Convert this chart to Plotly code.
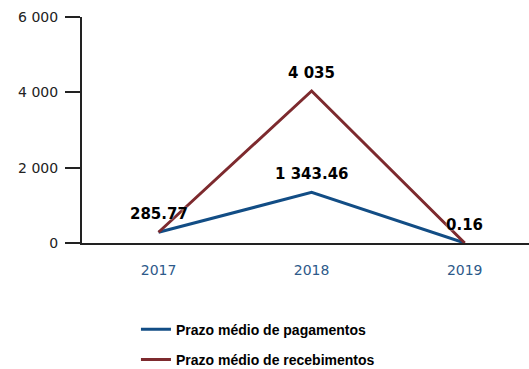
import plotly.graph_objects as go

# Categories and series values
anos = ["2017", "2018", "2019"]
pagamentos = [285.77, 1343.46, 0.16]
recebimentos = [285.77, 4035, 0.16]

# Value labels shown above the points (None = no label)
rotulos_pag = ["285.77", "1 343.46", "0.16"]
rotulos_rec = [None, "4 035", None]

y_ticks = [0, 2000, 4000, 6000]
y_tick_text = ["0", "2 000", "4 000", "6 000"]

azul = "#124d85"
vermelho = "#7d2a2e"

fig = go.Figure()
fig.add_trace(go.Scatter(
    x=anos, y=pagamentos, mode="lines", name="Prazo médio de pagamentos",
    line=dict(color=azul, width=3), legendgroup="a", cliponaxis=False,
))
fig.add_trace(go.Scatter(
    x=anos, y=recebimentos, mode="lines", name="Prazo médio de recebimentos",
    line=dict(color=vermelho, width=3), legendgroup="b", cliponaxis=False,
))

annots = []
for serie, textos in ((pagamentos, rotulos_pag), (recebimentos, rotulos_rec)):
    for i, (val, txt) in enumerate(zip(serie, textos)):
        if txt is None:
            continue
        # category axis: position by category index
        annots.append(dict(
            x=i, y=val, xref="x", yref="y", text="<b>" + txt + "</b>",
            showarrow=False, yanchor="bottom", xanchor="center", yshift=7,
            font=dict(family="DejaVu Sans", size=15, color="#000000",
                      shadow="0px 0px 2px white"),
        ))

fig.update_layout(
    width=529, height=369,
    margin=dict(l=82, r=0, t=17, b=126, autoexpand=False),
    paper_bgcolor="white", plot_bgcolor="white",
    showlegend=True,
    legend=dict(
        xref="container", yref="container",
        x=0.257, y=0.15, xanchor="left", yanchor="top",
        orientation="v", traceorder="grouped", tracegroupgap=9,
        font=dict(family="Liberation Sans", size=14, color="#000000", weight="bold"),
        bgcolor="rgba(0,0,0,0)",
    ),
    annotations=annots,
    xaxis=dict(
        type="category", range=[-0.5, 2.42],
        showgrid=False, zeroline=False,
        showline=True, linecolor="#222222", linewidth=2,
        ticks="", ticklabelstandoff=13,
        tickfont=dict(family="DejaVu Sans", size=14, color="#2d5a8a"),
    ),
    yaxis=dict(
        range=[0, 6000], tickvals=y_ticks, ticktext=y_tick_text,
        showgrid=False, zeroline=False,
        showline=True, linecolor="#222222", linewidth=2,
        ticks="outside", ticklen=15, tickwidth=2, tickcolor="#222222",
        ticklabelstandoff=4,
        tickfont=dict(family="DejaVu Sans", size=14, color="#222222"),
    ),
)

fig.write_html("out.html")
